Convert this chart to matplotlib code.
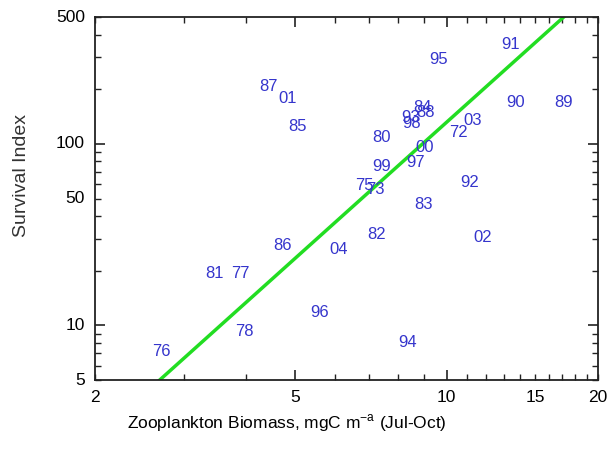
import matplotlib
matplotlib.use("Agg")
import matplotlib.pyplot as plt
import numpy as np
from matplotlib.ticker import FixedLocator, NullFormatter

# year labels with zooplankton biomass (x) and survival index (y)
years = ["87", "01", "85", "95", "91", "90", "89", "84", "88", "93", "98",
         "03", "72", "80", "00", "99", "97", "92", "75", "73", "83", "82",
         "02", "86", "04", "81", "77", "96", "78", "94", "76"]
biomass = [4.42, 4.82, 5.06, 9.62, 13.4, 13.7, 17.1, 8.94, 9.10, 8.50, 8.53,
           11.28, 10.54, 7.44, 9.06, 7.44, 8.69, 11.13, 6.85, 7.21, 8.98, 7.27,
           11.8, 4.71, 6.11, 3.46, 3.90, 5.60, 3.96, 8.38, 2.71]
survival = [206, 177, 125, 290, 355, 170, 170, 158, 148, 139, 130,
            134, 116, 108, 96, 75, 78.5, 61.6, 59.3, 55.7, 46.6, 31.5,
            30.3, 27.4, 26.3, 19.2, 19.2, 11.7, 9.3, 8.0, 7.2]

# log-log fit: log10(y) = a + b*log10(x)
fit_a = -0.371
fit_b = 2.49

plt.rcParams['font.family'] = ['Liberation Sans', 'DejaVu Sans']

fig = plt.figure(figsize=(6.10, 4.51), dpi=100)
ax = fig.add_axes([0.1557, 0.1574, 0.8246, 0.8049])
ax.set_xscale('log')
ax.set_yscale('log')
ax.set_xlim(2, 20)
ax.set_ylim(5, 500)

for yr, xv, yv in zip(years, biomass, survival):
    ax.text(xv, yv, yr, color='#3535cc', fontsize=12, ha='center', va='center')

xs = np.array([2.0, 20.0])
ax.plot(xs, 10 ** (fit_a + fit_b * np.log10(xs)), color='#22dd22', lw=2.5)

# ticks
ax.xaxis.set_major_locator(FixedLocator([5, 10]))
ax.xaxis.set_minor_locator(FixedLocator([2, 3, 4, 6, 7, 8, 9, 11, 12, 13, 14, 15, 16, 17, 18, 19, 20]))
ax.xaxis.set_major_formatter(NullFormatter())
ax.xaxis.set_minor_formatter(NullFormatter())
for v in [2, 5, 10, 15, 20]:
    ax.text(v, -0.028, str(v), transform=ax.get_xaxis_transform(), ha='center', va='top', fontsize=12.5)

ax.yaxis.set_major_locator(FixedLocator([10, 100]))
ax.yaxis.set_minor_locator(FixedLocator([5, 6, 7, 8, 9, 20, 30, 40, 50, 60, 70, 80, 90, 200, 300, 400, 500]))
ax.yaxis.set_major_formatter(NullFormatter())
ax.yaxis.set_minor_formatter(NullFormatter())
for v in [5, 10, 50, 100, 500]:
    ax.text(-0.02, v, str(v), transform=ax.get_yaxis_transform(), ha='right', va='center', fontsize=12.5)

ax.tick_params(which='both', direction='in', top=True, right=True, color='#222222')
ax.tick_params(which='major', length=7, width=1.2)
ax.tick_params(which='minor', length=4, width=1.0)
for s in ax.spines.values():
    s.set_linewidth(1.3)
    s.set_color('#222222')

fig.text(0.036, 0.61, 'Survival Index', rotation=90, ha='center', va='center', fontsize=14, color='#333333')
fig.text(0.47, 0.062, 'Zooplankton Biomass, mgC m$^{\\mathregular{-a}}$ (Jul-Oct)', ha='center', va='center', fontsize=12.5)

fig.savefig('out.png', dpi=100)
